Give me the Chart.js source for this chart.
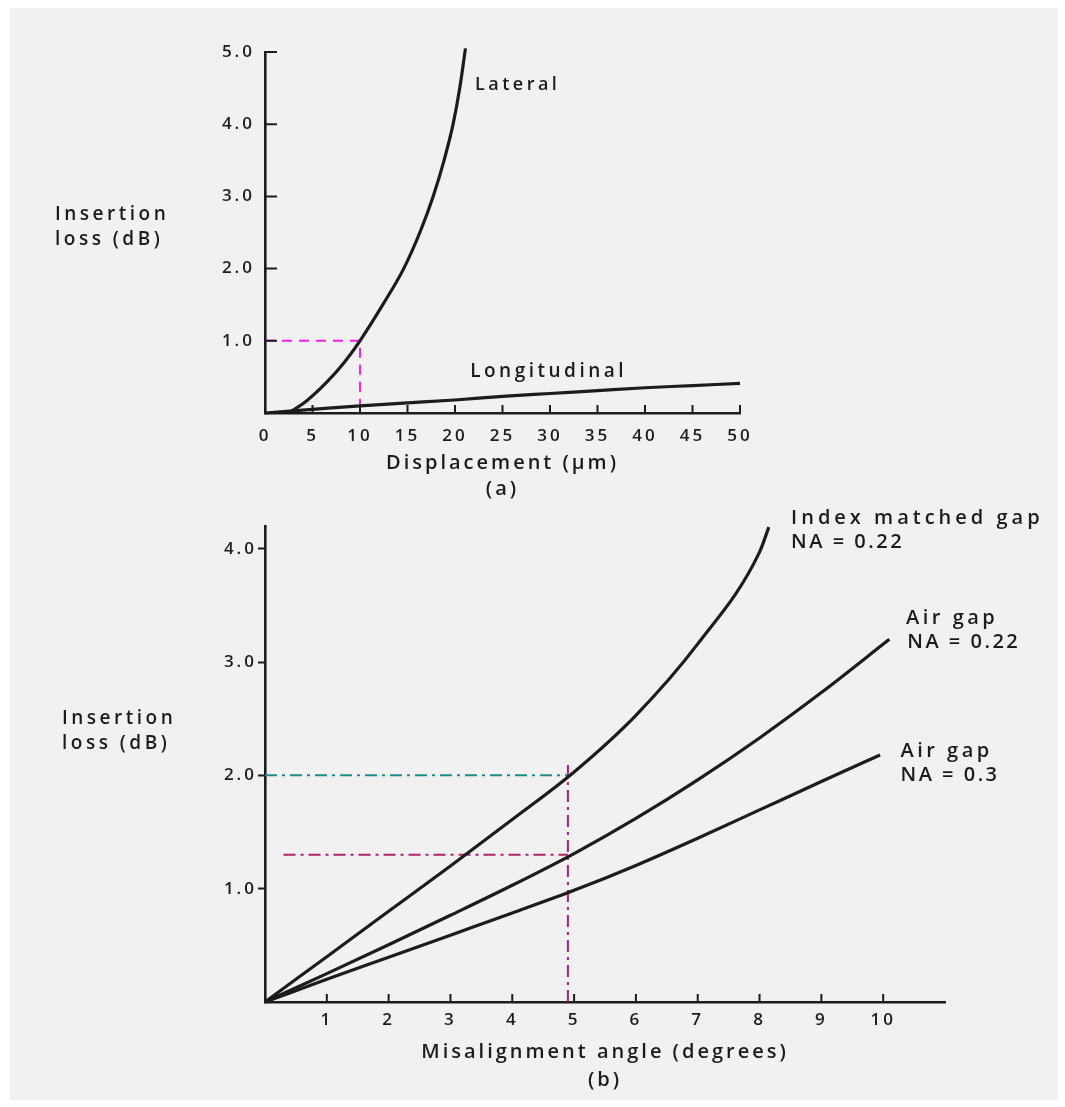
<!DOCTYPE html>
<html>
<head>
<meta charset="utf-8">
<script src="https://cdn.jsdelivr.net/npm/chart.js@4.4.0/dist/chart.umd.min.js"></script>
<style>
  body { margin: 0; background: #fff; }
  #paper { position: absolute; left: 10px; top: 8px; width: 1048px; height: 1092px; background: #f1f1f1; }
  canvas { position: absolute; left: 0; }
  .ytitle { position: absolute; font-family: 'Open Sans', sans-serif; font-weight: 600; font-size: 19px;
            line-height: 25px; letter-spacing: 3.5px; color: #1c1c1c; }
</style>
</head>
<body>
<div id="paper"></div>
<canvas id="chartA" width="1065" height="500" style="top:0"></canvas>
<canvas id="chartB" width="1065" height="607" style="top:500px"></canvas>
<div class="ytitle" style="left:55px; top:201px">Insertion<br>loss (dB)</div>
<div class="ytitle" style="left:62px; top:705px">Insertion<br>loss (dB)</div>
<script>
// (a) displacement, um
const lateralX = [2.5, 4.4, 6.6, 8.4, 10, 12.4, 14.6, 16.3, 17.7, 18.85, 19.8, 20.5, 21.1];
const lateralY = [0, 0.17, 0.44, 0.71, 1.0, 1.5, 2.0, 2.5, 3.0, 3.5, 4.0, 4.5, 5.05];
const longX = [0, 5, 10, 15, 20, 25, 30, 35, 40, 45, 50];
const longY = [0, 0.05, 0.1, 0.14, 0.18, 0.23, 0.27, 0.31, 0.35, 0.38, 0.41];
const ticksAX = [0, 5, 10, 15, 20, 25, 30, 35, 40, 45, 50];
const ticksAY = [1, 2, 3, 4, 5];
const guideA = [[0, 1.0], [10, 1.0], [10, 0]];

// (b) misalignment angle, degrees
const indexX = [0, 1, 2, 3, 4, 5, 6, 7, 8, 8.15];
const indexY = [0, 0.40, 0.80, 1.20, 1.61, 2.03, 2.53, 3.16, 3.97, 4.19];
const air22X = [0, 1, 2, 3, 4, 5, 6, 7, 8, 9, 10.1];
const air22Y = [0, 0.25, 0.505, 0.765, 1.03, 1.31, 1.62, 1.96, 2.33, 2.73, 3.2];
const air3X = [0, 1, 2, 3, 4, 5, 6, 7, 8, 9, 9.95];
const air3Y = [0, 0.2, 0.395, 0.59, 0.785, 0.985, 1.205, 1.445, 1.695, 1.945, 2.18];
const ticksBX = [1, 2, 3, 4, 5, 6, 7, 8, 9, 10];
const ticksBY = [1, 2, 3, 4];
const guideTeal = [[0, 2.0], [4.9, 2.0]];
const guideRedH = [[0.3, 1.3], [4.9, 1.3]];
const guideRedV = [[4.9, 0], [4.9, 2.1]];

const ink = '#1c1c1c';
const face = "'Open Sans', sans-serif";
Chart.defaults.font.family = face;
Chart.defaults.font.weight = '600';
Chart.defaults.color = ink;

function pts(xs, ys) { return xs.map((x, i) => ({x: x, y: ys[i]})); }
function pairs(p) { return p.map(a => ({x: a[0], y: a[1]})); }

function curve(xs, ys) {
    return { data: pts(xs, ys), borderColor: ink, borderWidth: 3.2, pointRadius: 0,
             showLine: true, cubicInterpolationMode: 'monotone', clip: false };
}
function guide(p, color, dash) {
    return { data: pairs(p), borderColor: color, borderWidth: 2, borderDash: dash,
             pointRadius: 0, showLine: true, clip: false };
}

// spaced out lettering like the scan
const spacing = {
    id: 'spacing',
    beforeUpdate(chart) { chart.ctx.letterSpacing = '3px'; },
    beforeDraw(chart) { chart.ctx.letterSpacing = '3px'; }
};

const axisTicks = {
    id: 'axisTicks',
    afterDatasetsDraw(chart, args, opts) {
        const {ctx, chartArea, scales: {x, y}} = chart;
        ctx.save();
        ctx.strokeStyle = ink;
        ctx.lineWidth = 2;
        ctx.beginPath();
        x.ticks.forEach(t => {
            if (t.value <= x.min) return;
            const px = x.getPixelForValue(t.value);
            ctx.moveTo(px, chartArea.bottom);
            ctx.lineTo(px, chartArea.bottom - opts.x);
        });
        y.ticks.forEach(t => {
            if (t.value <= y.min) return;
            const py = y.getPixelForValue(t.value);
            ctx.moveTo(chartArea.left, py);
            ctx.lineTo(chartArea.left + opts.y, py);
        });
        ctx.stroke();
        ctx.restore();
    }
};

const curveLabels = {
    id: 'curveLabels',
    afterDraw(chart, args, opts) {
        const {ctx, scales: {x, y}} = chart;
        ctx.save();
        ctx.fillStyle = ink;
        ctx.textAlign = 'left';
        ctx.textBaseline = 'middle';
        opts.items.forEach(l => {
            ctx.font = '600 ' + l.size + 'px ' + face;
            ctx.letterSpacing = l.ls;
            ctx.fillText(l.text, x.getPixelForValue(l.x), y.getPixelForValue(l.y));
        });
        ctx.restore();
    }
};

function axes(tx, ty, xmax, ymax, xh, title, titleLH, titlePad, xPad, yPad, yTickLen) {
    return {
        x: {
            type: 'linear', min: 0, max: xmax,
            afterBuildTicks: s => { s.ticks = tx.map(v => ({value: v})); },
            afterFit: s => { s.height = xh; },
            grid: { display: false, drawTicks: false },
            border: { display: true, color: ink, width: 2.6 },
            ticks: { padding: xPad, font: { size: 17 }, color: ink, callback: v => String(v) },
            title: { display: true, text: title, color: ink,
                     font: { size: 20, lineHeight: titleLH }, padding: { top: 0, bottom: titlePad } }
        },
        y: {
            type: 'linear', min: 0, max: ymax,
            afterBuildTicks: s => { s.ticks = ty.map(v => ({value: v})); },
            afterFit: s => { s.width = 265; },
            grid: { display: yTickLen > 0, drawOnChartArea: false, drawTicks: yTickLen > 0,
                    tickLength: yTickLen, tickWidth: 2, tickColor: ink },
            border: { display: true, color: ink, width: 2.6 },
            ticks: { padding: yPad, font: { size: 17 }, color: ink, callback: v => v.toFixed(1) }
        }
    };
}

new Chart(document.getElementById('chartA'), {
    type: 'scatter',
    data: {
        datasets: [
            curve(lateralX, lateralY),
            curve(longX, longY),
            guide(guideA, '#f41ee6', [10, 7])
        ]
    },
    options: {
        responsive: false,
        animation: false,
        layout: { padding: { left: 0, top: 52, right: 325, bottom: 0 } },
        scales: axes(ticksAX, ticksAY, 50, 5, 87,
                     ['Displacement (\u03bcm)', '(a)'], '26px', -2, 13, 10, 0),
        plugins: {
            legend: { display: false },
            tooltip: { enabled: false },
            axisTicks: { x: 8, y: 12 },
            curveLabels: { items: [
                { text: 'Lateral', x: 22.1, y: 4.54, size: 18, ls: '3.5px' },
                { text: 'Longitudinal', x: 21.6, y: 0.57, size: 19, ls: '3.5px' }
            ] }
        }
    },
    plugins: [spacing, axisTicks, curveLabels]
});

new Chart(document.getElementById('chartB'), {
    type: 'scatter',
    data: {
        datasets: [
            curve(indexX, indexY),
            curve(air22X, air22Y),
            curve(air3X, air3Y),
            guide(guideTeal, '#1f8b8b', [12, 5, 3, 5]),
            guide(guideRedH, '#b0226a', [12, 5, 3, 5]),
            guide(guideRedV, '#b0226a', [12, 5, 3, 5])
        ]
    },
    options: {
        responsive: false,
        animation: false,
        layout: { padding: { left: 0, top: 26, right: 120, bottom: 0 } },
        scales: axes(ticksBX, ticksBY, 11, 4.2, 105,
                     ['Misalignment angle (degrees)', '(b)'], '28px', 13, 8, 1, 7),
        plugins: {
            legend: { display: false },
            tooltip: { enabled: false },
            axisTicks: { x: 8, y: 0 },
            curveLabels: { items: [
                { text: 'Index matched gap', x: 8.51, y: 4.27, size: 20, ls: '4px' },
                { text: 'NA = 0.22', x: 8.51, y: 4.06, size: 20, ls: '2.5px' },
                { text: 'Air gap', x: 10.37, y: 3.39, size: 20, ls: '3.5px' },
                { text: 'NA = 0.22', x: 10.39, y: 3.17, size: 20, ls: '2.5px' },
                { text: 'Air gap', x: 10.28, y: 2.21, size: 20, ls: '3.5px' },
                { text: 'NA = 0.3', x: 10.28, y: 2.0, size: 20, ls: '2.5px' }
            ] }
        }
    },
    plugins: [spacing, axisTicks, curveLabels]
});
</script>
</body>
</html>
